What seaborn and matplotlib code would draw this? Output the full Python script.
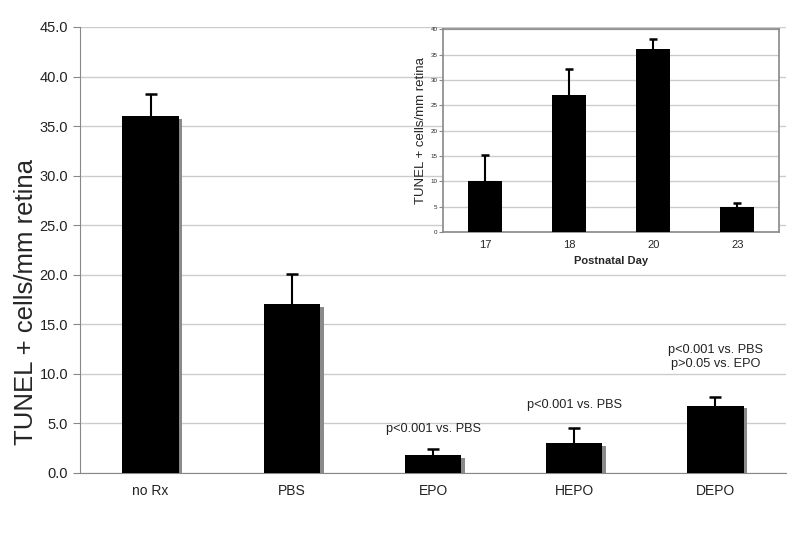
import matplotlib
matplotlib.use("Agg")
import matplotlib.pyplot as plt
import matplotlib.patheffects as pe
import seaborn as sns
import numpy as np
import pandas as pd

# main chart data
groups = ["no Rx", "PBS", "EPO", "HEPO", "DEPO"]
tunel = [36.0, 17.0, 1.8, 3.0, 6.8]
tunel_err = [2.2, 3.1, 0.65, 1.55, 0.85]
notes = ["", "", "p<0.001 vs. PBS", "p<0.001 vs. PBS", "p<0.001 vs. PBS\np>0.05 vs. EPO"]
note_y = [0, 0, 4.45, 6.85, 11.7]

# inset data
days = ["17", "18", "20", "23"]
day_counts = [10.0, 27.0, 36.0, 5.0]
day_err = [5.1, 5.1, 2.0, 0.7]

sns.set_style("white")
plt.rcParams["font.family"] = ["Liberation Sans", "DejaVu Sans"]

fig = plt.figure(figsize=(8, 5.5), dpi=100)
ax = fig.add_axes([0.1, 0.14, 0.8825, 0.811])

df = pd.DataFrame({"group": groups, "tunel": tunel})
sns.barplot(data=df, x="group", y="tunel", color="black", width=0.4,
            saturation=1, ax=ax, errorbar=None, zorder=3, linewidth=0)
for p in ax.patches:
    p.set_path_effects([pe.SimplePatchShadow(offset=(2.5, -2), shadow_rgbFace="#8a8a8a", alpha=1),
                        pe.Normal()])
xs = np.arange(len(groups))
tops = np.array(tunel) + np.array(tunel_err)
ax.vlines(xs, tunel, tops, color="black", lw=1.5, zorder=4)
ax.plot(xs, tops, ls="none", marker="_", ms=8, mew=1.8, color="black", zorder=4)

ax.set_ylim(0, 45)
ax.set_xlim(-0.5, len(groups) - 0.5)
ax.set_yticks(np.arange(0, 45.1, 5))
ax.set_yticklabels([f"{v:.1f}" for v in np.arange(0, 45.1, 5)], fontsize=10.5, color="#222222")
ax.yaxis.grid(True, color="#cccccc", lw=1)
ax.set_axisbelow(True)
ax.set_xticks(xs)
ax.set_xticklabels(groups, fontsize=10, color="#222222")
ax.tick_params(axis="x", length=0, pad=8)
ax.set_xticks(np.arange(-0.5, len(groups), 1), minor=True)
ax.tick_params(axis="x", which="minor", length=5, color="#888888", direction="out")
ax.tick_params(axis="y", length=5, color="#888888", direction="out", left=True)
ax.set_xlabel("")
ax.set_ylabel("TUNEL + cells/mm retina", fontsize=18.5)
ax.yaxis.set_label_coords(-0.06, 0.383)
for s in ["top", "right"]:
    ax.spines[s].set_visible(False)
for s in ["left", "bottom"]:
    ax.spines[s].set_color("#888888")

for i, t in enumerate(notes):
    if t:
        ax.text(i, note_y[i], t, ha="center", va="center",
                fontsize=9.2, linespacing=1.25, color="#222222")

# inset
ins = fig.add_axes([0.554, 0.578, 0.42, 0.369])
ins.set_facecolor("white")
di = pd.DataFrame({"day": days, "n": day_counts})
sns.barplot(data=di, x="day", y="n", color="black", width=0.4, saturation=1,
            ax=ins, errorbar=None, zorder=3, linewidth=0)
dx = np.arange(len(days))
dtops = np.array(day_counts) + np.array(day_err)
ins.vlines(dx, day_counts, dtops, color="black", lw=1.5, zorder=4)
ins.plot(dx, dtops, ls="none", marker="_", ms=6, mew=1.8, color="black", zorder=4)
ins.set_ylim(0, 40)
ins.set_xlim(-0.5, len(days) - 0.5)
ins.set_yticks(np.arange(0, 41, 5))
ins.tick_params(axis="y", labelsize=4.5, length=3, pad=1, color="#888888", left=True)
ins.yaxis.grid(True, color="#cccccc", lw=1)
ins.set_axisbelow(True)
ins.set_xticks(dx)
ins.set_xticklabels(days, fontsize=8)
ins.tick_params(axis="x", length=0, pad=6)
ins.set_xticks(np.arange(-0.5, len(days), 1), minor=True)
ins.tick_params(axis="x", which="minor", length=3, color="#888888", direction="out")
ins.set_xlabel("Postnatal Day", fontsize=8, fontweight="bold")
ins.set_ylabel("TUNEL + cells/mm retina", fontsize=9.5)
ins.yaxis.set_label_coords(-0.048, 0.5)
for s in ins.spines.values():
    s.set_color("#888888")
    s.set_linewidth(1.2)

fig.savefig("out.png", dpi=100)
